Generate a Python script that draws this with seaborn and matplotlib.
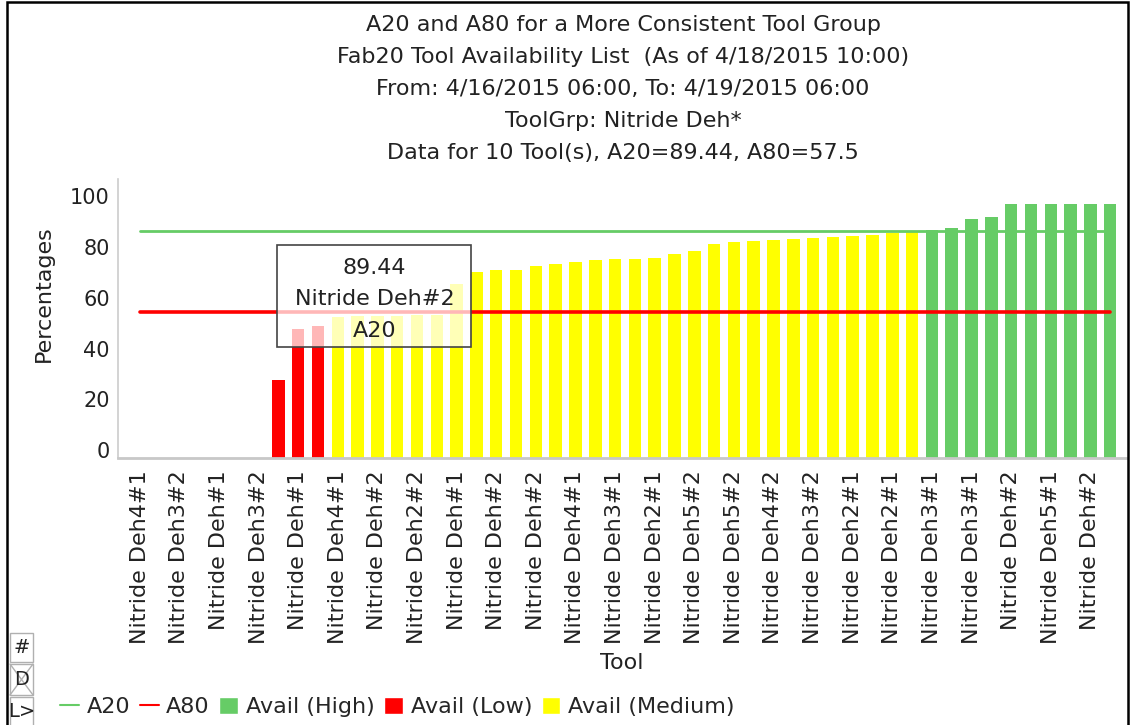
import numpy as np
import matplotlib
matplotlib.use("Agg")
import matplotlib.pyplot as plt
import seaborn as sns
import pandas as pd
from matplotlib.patches import Rectangle
from matplotlib.lines import Line2D
from matplotlib.transforms import ScaledTranslation

# availability (%) per tool, sorted ascending
availability = [0, 0, 0, 0, 0, 0, 0,
                30.7, 50.8, 52.1,
                55.6, 55.8, 56.0, 56.1, 56.3, 56.5, 68.5, 73.3, 74.0, 74.1,
                75.6, 76.5, 77.2, 78.2, 78.5, 78.6, 78.9, 80.4, 81.8, 84.4,
                85.0, 85.4, 86.1, 86.2, 86.7, 87.0, 87.4, 88.1, 88.7, 89.1,
                89.8, 90.8, 94.4, 95.0, 100, 100, 100, 100, 100, 100]
category = (["Avail (Low)"] * 10 + ["Avail (Medium)"] * 30 + ["Avail (High)"] * 10)

# every other tool name is shown on the axis
tool_labels = ["Nitride Deh4#1", "Nitride Deh3#2", "Nitride Deh#1", "Nitride Deh3#2",
               "Nitride Deh#1", "Nitride Deh4#1", "Nitride Deh#2", "Nitride Deh2#2",
               "Nitride Deh#1", "Nitride Deh#2", "Nitride Deh#2", "Nitride Deh4#1",
               "Nitride Deh3#1", "Nitride Deh2#1", "Nitride Deh5#2", "Nitride Deh5#2",
               "Nitride Deh4#2", "Nitride Deh3#2", "Nitride Deh2#1", "Nitride Deh2#1",
               "Nitride Deh3#1", "Nitride Deh3#1", "Nitride Deh#2", "Nitride Deh5#1",
               "Nitride Deh#2"]

a20 = 89.44
a80 = 57.5

title_lines = ["A20 and A80 for a More Consistent Tool Group",
               "Fab20 Tool Availability List  (As of 4/18/2015 10:00)",
               "From: 4/16/2015 06:00, To: 4/19/2015 06:00",
               "ToolGrp: Nitride Deh*",
               "Data for 10 Tool(s), A20=89.44, A80=57.5"]

palette = {"Avail (High)": "#66CC66", "Avail (Low)": "#FF0000", "Avail (Medium)": "#FFFF00"}
TXT = "#222222"

sns.set_style("white")
plt.rcParams['font.family'] = ['DejaVu Sans']
FS = 16

W, H = 1131, 725
fig = plt.figure(figsize=(W / 100, H / 100), dpi=100)
ax = fig.add_axes([118 / W, 1 - 458 / H, (1126 - 118) / W, (458 - 179) / H])

df = pd.DataFrame({"tool": np.arange(len(availability)), "avail": availability, "cat": category})
sns.barplot(data=df, x="tool", y="avail", hue="cat", palette=palette, dodge=False,
            width=0.63, linewidth=0, saturation=1, legend=False, ax=ax,
            hue_order=["Avail (High)", "Avail (Low)", "Avail (Medium)"])

idx = np.arange(len(availability))
ax.plot(idx, [a20] * len(idx), color="#66CC66", lw=2, zorder=3)
ax.plot(idx, [a80] * len(idx), color="#FF0000", lw=2.6, zorder=3)

ax.set_xlim(-1.1, 49.8)
ax.set_ylim(0, 110)
ax.set_yticks([0, 20, 40, 60, 80, 100])
ax.set_xticks(idx[::2])
ax.set_xticklabels(tool_labels, rotation=90, fontsize=FS)
ax.tick_params(axis="both", length=0, colors=TXT)
ax.tick_params(axis="x", pad=9, labelsize=FS)
ax.tick_params(axis="y", pad=6, labelsize=15)
for lab in ax.get_yticklabels():
    lab.set_transform(lab.get_transform() + ScaledTranslation(0, 8 / 100, fig.dpi_scale_trans))

for s in ["top", "right"]:
    ax.spines[s].set_visible(False)
ax.spines["left"].set_color("#cccccc")
ax.spines["left"].set_linewidth(1.2)
ax.spines["bottom"].set_color("#c8c8c8")
ax.spines["bottom"].set_linewidth(2)

ax.set_xlabel("Tool", fontsize=FS, color=TXT)
ax.set_ylabel("Percentages", fontsize=FS, color=TXT)
ax.xaxis.set_label_coords(0.5, -0.70)
ax.yaxis.set_label_coords(-0.064, 0.59)

# hover tooltip
ax.add_patch(Rectangle((6.95, 43.7), 9.8, 40.2, facecolor="white", alpha=0.72,
                       edgecolor="none", zorder=5))
ax.add_patch(Rectangle((6.95, 43.7), 9.8, 40.2, facecolor="none",
                       edgecolor="#444444", lw=1.2, zorder=6))
for txt, yy in zip(["89.44", "Nitride Deh#2", "A20"], [74.8, 62.8, 50.2]):
    ax.text(11.85, yy, txt, ha="center", va="center", fontsize=FS, color=TXT, zorder=7)

# title block
for i, line in enumerate(title_lines):
    fig.text(623 / W, 1 - (25 + 32 * i) / H, line, ha="center", va="center",
             fontsize=FS, color=TXT)

handles = [Line2D([], [], color="#66CC66", lw=1.5),
           Line2D([], [], color="#FF0000", lw=1.5),
           Rectangle((0, 0), 1, 1, facecolor=palette["Avail (High)"]),
           Rectangle((0, 0), 1, 1, facecolor=palette["Avail (Low)"]),
           Rectangle((0, 0), 1, 1, facecolor=palette["Avail (Medium)"])]
labels = ["A20", "A80", "Avail (High)", "Avail (Low)", "Avail (Medium)"]
fig.legend(handles, labels, loc="center left", bbox_to_anchor=(60 / W, 1 - 707 / H),
           ncol=5, frameon=False, fontsize=FS, handlelength=0.85, handleheight=0.85,
           handletextpad=0.35, columnspacing=0.42, borderaxespad=0, borderpad=0)

# outer frame and side widgets of the viewer
fig.patches.append(Rectangle((7 / W, -0.01), (1128 - 7) / W, 1.01 - 2 / H, transform=fig.transFigure,
                             facecolor="none", edgecolor="black", lw=1.8))
for txt, (y0, y1) in zip(["#", "D", "L>"], [(633, 662), (664, 695), (697, 726)]):
    fig.patches.append(Rectangle((10 / W, 1 - y1 / H), 23 / W, (y1 - y0) / H,
                                 transform=fig.transFigure, facecolor="white",
                                 edgecolor="#b0b0b0", lw=1))
    fig.text(21.5 / W, 1 - (y0 + y1) / 2 / H, txt, ha="center", va="center",
             fontsize=14, color=TXT)
fig.add_artist(Line2D([10 / W, 33 / W], [1 - 664 / H, 1 - 695 / H], color="#b0b0b0", lw=1))
fig.add_artist(Line2D([10 / W, 33 / W], [1 - 695 / H, 1 - 664 / H], color="#b0b0b0", lw=1))

fig.savefig("out.png", dpi=100)
